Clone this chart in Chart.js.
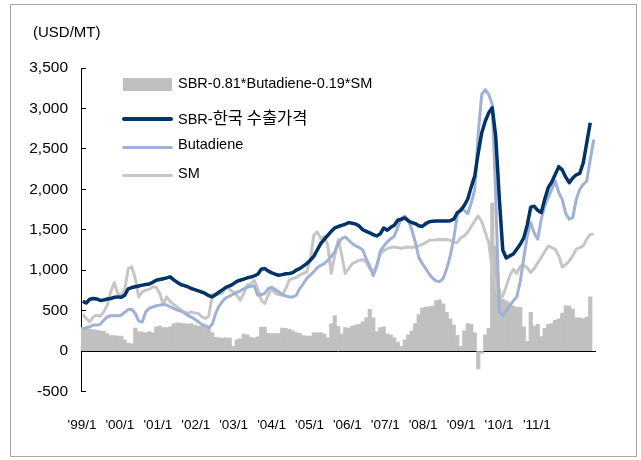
<!DOCTYPE html>
<html>
<head>
<meta charset="utf-8">
<script src="https://cdn.jsdelivr.net/npm/chart.js@4"></script>
<style>
  body { margin: 0; background: #fff; }
  #wrap { position: relative; width: 641px; height: 460px; }
  #frame { position: absolute; left: 10px; top: 4px; width: 625px; height: 451px; border: 1px solid #a6a6a6; }
  canvas { position: absolute; left: 0; top: 0; }
  .lg { position: absolute; font-family: "Liberation Sans", Arial, sans-serif; font-size: 14.5px; color: #000; line-height: 20px; white-space: nowrap; }
  .ko { font-family: "Noto Sans CJK KR", sans-serif; font-size: 16.5px; }
  .sw { position: absolute; }
  #unit { position: absolute; left: 33px; top: 22px; font-family: "Liberation Sans", Arial, sans-serif; font-size: 15px; line-height: 20px; color: #000; }
</style>
</head>
<body>
<div id="wrap">
  <div id="frame"></div>
  <canvas id="chart" width="641" height="460"></canvas>
  <div id="unit">(USD/MT)</div>
  <div id="legend"></div>
</div>
<script>
// x tick labels shown under the chart
const xTickLabels = ["'99/1", "'00/1", "'01/1", "'02/1", "'03/1", "'04/1", "'05/1",
                     "'06/1", "'07/1", "'08/1", "'09/1", "'10/1", "'11/1"];

// monthly categories, 1999/1 .. 2011/3
const months = [];
for (let y = 1999; y <= 2011; y++) {
    for (let m = 1; m <= 12; m++) {
        if (y === 2011 && m > 3) break;
        months.push(y + '/' + m);
    }
}

// SBR - 0.81*Butadiene - 0.19*SM (bars)
const spread = [
    290, 295, 270, 265, 260, 250, 245, 215, 190, 190, 185, 185,
    140, 100, 90, 285, 240, 235, 230, 240, 230, 300, 310, 290,
    290, 300, 340, 350, 345, 340, 335, 340, 320, 310, 305, 290,
    280, 230, 170, 165, 160, 165, 160, 60, 140, 150, 210, 200,
    170, 160, 175, 295, 295, 220, 215, 215, 215, 285, 280, 270,
    250, 230, 220, 190, 185, 185, 225, 225, 230, 210, 165, 340,
    440, 305, 210, 290, 285, 310, 320, 330, 360, 410, 515, 410,
    240, 290, 300, 210, 200, 165, 110, 60, 140, 200, 250, 340,
    450, 530, 545, 550, 555, 625, 635, 585, 480, 400, 320, 195,
    60, 250, 340, 330, 230, -220, -30, 200, 280, 1830, 1300, 760,
    640, 620, 600, 560, 540, 540, 300, 120, 480, 310, 330, 180,
    280, 330, 340, 380, 400, 470, 560, 560, 520, 410, 410, 400,
    420, 670, null
];

// SBR Korean export price
const sbrKorea = [
    615, 595, 640, 650, 645, 625, 630, 645, 650, 665, 670, 665,
    690, 770, 785, 795, 805, 815, 823, 830, 850, 876, 885, 895,
    905, 918, 880, 850, 823, 810, 795, 773, 760, 745, 730, 712,
    685, 670, 700, 730, 760, 790, 806, 830, 860, 876, 890, 905,
    915, 930, 950, 1012, 1020, 990, 967, 950, 938, 945, 955, 960,
    970, 1000, 1020, 1050, 1082, 1123, 1170, 1250, 1330, 1380, 1430, 1480,
    1522, 1540, 1555, 1568, 1588, 1580, 1570, 1545, 1500, 1480, 1461, 1440,
    1424, 1450, 1522, 1494, 1530, 1555, 1617, 1630, 1646, 1610, 1590, 1576,
    1550, 1540, 1576, 1600, 1605, 1609, 1609, 1609, 1609, 1612, 1630, 1710,
    1740, 1800, 1880, 2030, 2165, 2453, 2700, 2843, 2946, 3008, 2650, 1900,
    1250, 1150, 1177, 1200, 1260, 1321, 1400, 1560, 1780, 1790, 1740, 1712,
    1880, 2020, 2090, 2185, 2280, 2240, 2150, 2082, 2140, 2180, 2197, 2329,
    2576, 2823, null
];

// Butadiene
const butadiene = [
    272, 288, 300, 321, 321, 330, 380, 424, 436, 436, 438, 444,
    480, 514, 518, 465, 370, 360, 485, 527, 545, 560, 568, 576,
    570, 545, 527, 506, 495, 470, 444, 420, 395, 362, 330, 313,
    290, 330, 470, 560, 620, 660, 680, 705, 725, 745, 770, 790,
    800, 806, 691, 700, 712, 773, 790, 760, 732, 700, 680, 670,
    670, 690, 773, 830, 900, 940, 979, 1030, 1060, 1082, 1120, 1170,
    1226, 1330, 1391, 1411, 1370, 1330, 1300, 1280, 1250, 1140, 1050, 930,
    1050, 1230, 1300, 1350, 1390, 1420, 1530, 1640, 1670, 1620, 1500, 1350,
    1160, 1080, 1020, 950, 900, 865, 860, 900, 1020, 1180, 1390, 1678,
    1760, 1740, 1700, 1830, 2000, 2700, 3173, 3234, 3173, 3049, 1900, 480,
    440, 500, 560, 621, 670, 860, 1150, 1424, 1588, 1460, 1383, 1630,
    1794, 1900, 2000, 2103, 1959, 1876, 1700, 1630, 1650, 1876, 2000, 2060,
    2103, 2370, 2617
];

// SM
const sm = [
    453, 403, 362, 424, 444, 430, 485, 568, 732, 848, 712, 691,
    760, 1020, 1041, 897, 670, 732, 753, 765, 794, 790, 712, 576,
    670, 609, 576, 547, 510, 485, 465, 485, 470, 465, 424, 403,
    430, 700, 691, 705, 720, 794, 760, 732, 691, 630, 712, 815,
    830, 876, 770, 630, 588, 691, 773, 712, 700, 691, 773, 876,
    897, 910, 938, 960, 979, 1123, 1432, 1473, 1390, 1420, 1308, 959,
    1185, 1380, 1185, 959, 1020, 1082, 1103, 1123, 1130, 1100, 1020, 979,
    1060, 1205, 1240, 1267, 1280, 1287, 1280, 1270, 1280, 1287, 1280, 1290,
    1300, 1320, 1340, 1370, 1372, 1375, 1378, 1375, 1378, 1370, 1345, 1340,
    1400, 1424, 1470, 1540, 1609, 1671, 1600, 1470, 1341, 1000, 780, 650,
    680, 800, 930, 1012, 960, 1050, 1060, 1030, 971, 1020, 1090, 1156,
    1230, 1300, 1280, 1259, 1180, 1040, 1070, 1115, 1180, 1259, 1280, 1300,
    1383, 1444, 1444
];

Chart.defaults.font.family = "'Liberation Sans', Arial, sans-serif";
Chart.defaults.color = '#000';

const ctx = document.getElementById('chart').getContext('2d');
const myChart = new Chart(ctx, {
    type: 'bar',
    data: {
        labels: months,
        datasets: [
            {
                type: 'bar',
                label: 'SBR-0.81*Butadiene-0.19*SM',
                data: spread,
                backgroundColor: '#c0c0c0',
                barPercentage: 1,
                categoryPercentage: 1,
                order: 4
            },
            {
                type: 'line',
                label: 'SBR-한국 수출가격',
                data: sbrKorea,
                borderColor: '#003366',
                borderWidth: 3.5,
                pointRadius: 0,
                tension: 0,
                borderJoinStyle: 'round',
                order: 1
            },
            {
                type: 'line',
                label: 'Butadiene',
                data: butadiene,
                borderColor: '#9fb1d5',
                borderWidth: 3,
                pointRadius: 0,
                tension: 0,
                borderJoinStyle: 'round',
                order: 2
            },
            {
                type: 'line',
                label: 'SM',
                data: sm,
                borderColor: '#c6c6c6',
                borderWidth: 3,
                pointRadius: 0,
                tension: 0,
                borderJoinStyle: 'round',
                order: 3
            }
        ]
    },
    options: {
        responsive: false,
        animation: false,
        layout: { padding: { left: 10, right: 45.5, top: 68, bottom: 0 } },
        plugins: {
            legend: { display: false },
            tooltip: { enabled: false }
        },
        scales: {
            x: {
                type: 'category',
                position: { y: 0 },
                offset: true,
                grid: {
                    offset: true,
                    drawOnChartArea: false,
                    drawTicks: true,
                    tickLength: -5,
                    color: c => (c.index % 12 === 0 ? '#000' : 'rgba(0,0,0,0)')
                },
                border: { display: true, color: '#000', width: 1 },
                ticks: { display: false }
            },
            xl: {
                type: 'linear',
                position: 'bottom',
                offset: false,
                min: 0,
                max: months.length,
                grid: { display: false, drawTicks: false },
                border: { display: false },
                afterBuildTicks: s => {
                    s.ticks = xTickLabels.map((t, k) => ({ value: 0.3 + 10.83 * k }));
                },
                ticks: {
                    autoSkip: false,
                    maxRotation: 0,
                    padding: 26,
                    font: { size: 13.5 },
                    color: '#000',
                    callback: (v, i) => xTickLabels[i]
                },
                afterFit: s => { s.height = 68.5; }
            },
            y: {
                min: -500,
                max: 3500,
                ticks: {
                    stepSize: 500,
                    padding: 18,
                    font: { size: 15.5 },
                    color: '#000',
                    callback: v => v.toLocaleString('en-US')
                },
                grid: { drawOnChartArea: false, tickLength: -5, color: '#000' },
                border: { color: '#000', width: 1 },
                afterFit: s => { s.width = 71; }
            }
        }
    }
});

// legend drawn as html boxes, inside the plot
const legendRows = [
    { swatchTop: 78, swatchH: 13, textTop: 73 },
    { swatchTop: 117, swatchH: 4, textTop: 107 },
    { swatchTop: 146, swatchH: 3, textTop: 134 },
    { swatchTop: 173.5, swatchH: 3, textTop: 163 }
];
const legend = document.getElementById('legend');
myChart.data.datasets.forEach((ds, i) => {
    const row = legendRows[i];
    const sw = document.createElement('div');
    sw.className = 'sw';
    sw.style.left = (ds.type === 'bar' ? 123 : 122) + 'px';
    sw.style.width = (ds.type === 'bar' ? 49 : 51) + 'px';
    sw.style.top = row.swatchTop + 'px';
    sw.style.height = row.swatchH + 'px';
    sw.style.background = ds.type === 'bar' ? ds.backgroundColor : ds.borderColor;
    if (ds.type !== 'bar') sw.style.borderRadius = '2px';
    legend.appendChild(sw);

    const txt = document.createElement('div');
    txt.className = 'lg';
    txt.style.left = '178px';
    txt.style.top = row.textTop + 'px';
    txt.innerHTML = ds.label.replace(/([\uAC00-\uD7A3][\uAC00-\uD7A3 ]*)/g, '<span class="ko">$1</span>');
    legend.appendChild(txt);
});
</script>
</body>
</html>
